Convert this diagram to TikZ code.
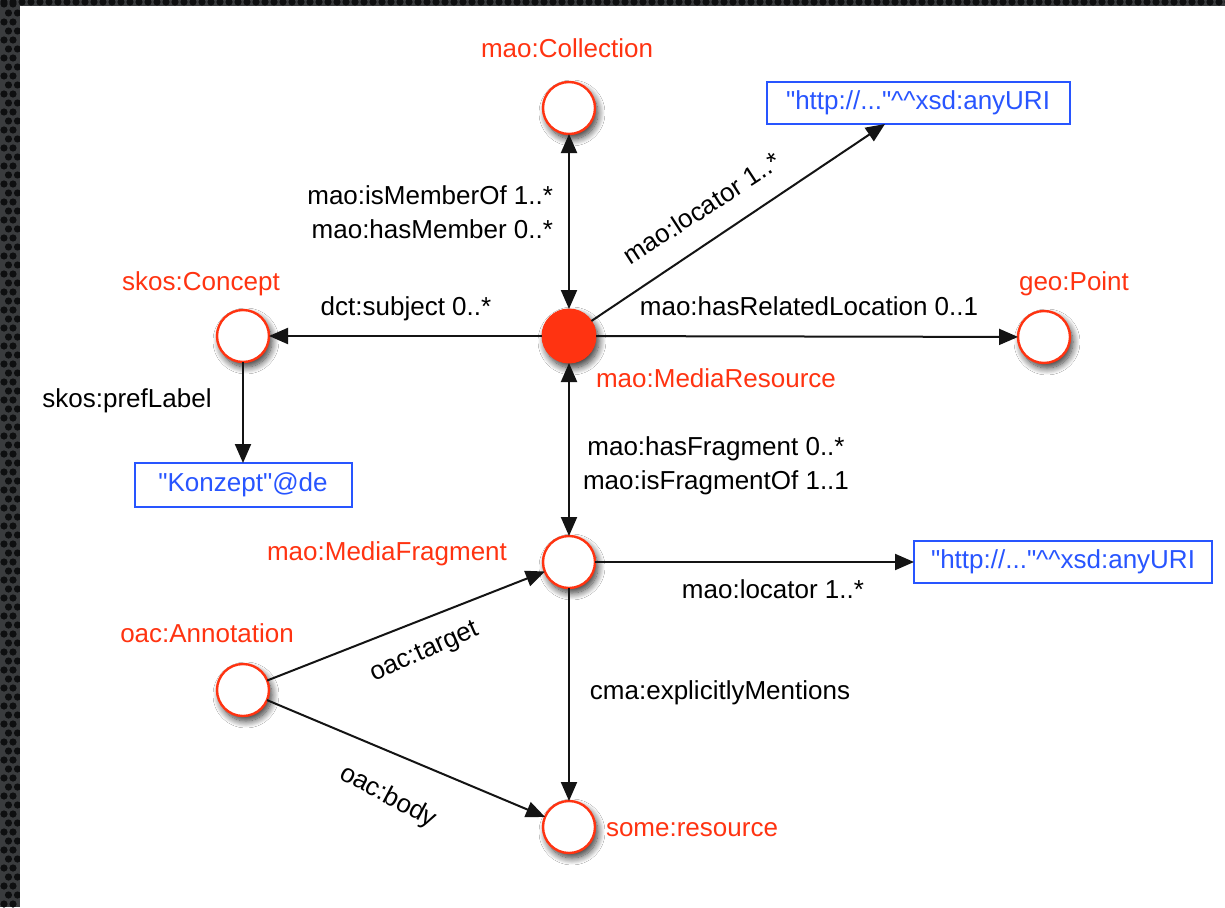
\documentclass[tikz,border=0pt]{standalone}
\usepackage{fontspec}
\setmainfont{Liberation Sans}[Ligatures=TeXOff]
\usetikzlibrary{arrows.meta,shadows.blur}

\definecolor{rdfred}{RGB}{255,51,17}
\definecolor{litblue}{RGB}{40,85,255}
\definecolor{edgeblack}{RGB}{20,20,20}
\definecolor{framegray}{RGB}{58,60,62}
\definecolor{framedot}{RGB}{14,15,16}

\begin{document}
\begin{tikzpicture}[x=1pt,y=-1pt,
  every node/.style={font=\fontsize{26}{34}\selectfont, inner sep=0pt, outer sep=0pt},
  shadowed/.style={blur shadow={shadow xshift=3pt, shadow yshift=-5pt,
      shadow blur radius=7pt, shadow opacity=80, shadow blur steps=12}},
  res/.style={circle, draw=rdfred, line width=2.4pt, fill=white,
      minimum size=52pt, shadowed},
  resfull/.style={circle, draw=rdfred, line width=1pt, fill=rdfred,
      minimum size=54pt, shadowed},
  lit/.style={draw=litblue, line width=2pt, fill=white, text=litblue},
  cls/.style={text=rdfred, anchor=base},
  prop/.style={text=black},
  edge/.style={line width=2pt, draw=edgeblack, -{Triangle[length=19pt,width=16pt]}},
  biedge/.style={line width=2pt, draw=edgeblack,
      {Triangle[length=19pt,width=16pt]}-{Triangle[length=19pt,width=16pt]}}
]
\useasboundingbox (0,0) rectangle (1225,907);

% textured frame along the left and top edges
\fill[framegray] (0,0) rectangle (1225,907);
\foreach \r in {0,...,100}{
  \pgfmathsetmacro{\yy}{\r*9+4}
  \pgfmathsetmacro{\xo}{mod(\r,2)*4.5}
  \fill[framedot] (\xo+4,\yy) circle (3.6);
  \fill[framedot] (\xo+13,\yy) circle (3.6);
}
\foreach \c in {0,...,136}{
  \fill[framedot] (\c*9+4,2) circle (3.6);
}
\fill[white] (20,6) rectangle (1225,907);

% resources
\node[res]     (coll)    at (569,108) {};
\node[resfull] (mr)      at (569,336) {};
\node[res]     (concept) at (243,336) {};
\node[res]     (geo)     at (1044,337) {};
\node[res]     (frag)    at (569,562) {};
\node[res]     (annot)   at (243,690) {};
\node[res]     (some)    at (569,827) {};

% literals
\node[lit, minimum width=303pt, minimum height=42pt] (uri1) at (918,103)
  {"http://..."\textasciicircum\textasciicircum xsd:anyURI};
\node[lit, minimum width=217pt, minimum height=44pt] (konz) at (243,485)
  {"Konzept"@de};
\node[lit, minimum width=298pt, minimum height=42pt] (uri2) at (1063,562)
  {"http://..."\textasciicircum\textasciicircum xsd:anyURI};

% class names
\node[cls] (lcoll)    at (567,58)  {mao:Collection};
\node[cls] (lconcept) at (201,290) {skos:Concept};
\node[cls] (lgeo)     at (1074,290) {geo:Point};
\node[cls] (lmr)      at (716,387) {mao:MediaResource};
\node[cls] (lfrag)    at (387,560) {mao:MediaFragment};
\node[cls] (lannot)   at (207,642) {oac:Annotation};
\node[cls] (lsome)    at (692,836) {some:resource};

% connectors
\draw[biedge] (mr) -- (coll);
\draw[edge]   (mr) -- (concept);
\draw[edge]   (mr) -- (geo);
\draw[edge]   (mr) -- ([xshift=-33pt]uri1.south);
\draw[biedge] (mr) -- (frag);
\draw[edge]   (concept) -- (konz);
\draw[edge]   (frag) -- (uri2);
\draw[edge]   (frag) -- (some);
\draw[edge]   (annot) -- (frag);
\draw[edge]   (annot) -- (some);

% property labels
\node[prop, align=right, anchor=base east] (pcoll) at (553,238)
  {mao:isMemberOf 1..*\\mao:hasMember 0..*};
\node[prop, rotate=33, anchor=base] (ploc1) at (707,216) {mao:locator 1..*};
\node[prop, anchor=base] (psubj) at (406,315) {dct:subject 0..*};
\node[prop, anchor=base] (prel)  at (809,315) {mao:hasRelatedLocation 0..1};
\node[prop, anchor=base] (ppref) at (127,407) {skos:prefLabel};
\node[prop, align=center, anchor=base] (pfrag) at (716,489)
  {mao:hasFragment 0..*\\mao:isFragmentOf 1..1};
\node[prop, anchor=base] (ploc2) at (773,598) {mao:locator 1..*};
\node[prop, anchor=base] (pment) at (720,699) {cma:explicitlyMentions};
\node[prop, rotate=24] (ptarget) at (425,653) {oac:target};
\node[prop, rotate=-28] (pbody) at (388,797) {oac:body};
\end{tikzpicture}
\end{document}
